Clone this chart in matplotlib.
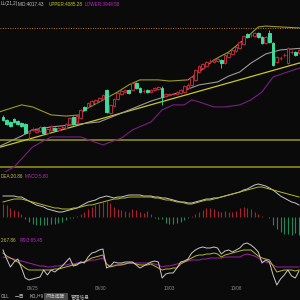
import matplotlib
matplotlib.use("Agg")
import matplotlib.pyplot as plt
import numpy as np

# ---------------- data ----------------
opens = [3783, 3773, 3766, 3776, 3769, 3762, 3759, 3728, 3739, 3732, 3735, 3749, 3728, 3739, 3745, 3739, 3748, 3745, 3759, 3783,
         3766, 3779, 3817, 3817, 3824, 3830, 3837, 3844, 3875, 3796, 3820, 3844, 3861, 3868, 3875, 3875, 3898, 3881, 3871, 3875,
         3868, 3875, 3878, 3881, 3854, 3859, 3860, 3861, 3864, 3868, 3881, 3892, 3909, 3936, 3949, 3956, 3972, 3970, 3973, 3977,
         3966, 3987, 3997, 4007, 4017, 4031, 4065, 4061, 4058, 4068, 4055, 4034, 4068, 4034, 3970, 3983, 3993, 3966, 4004, 4004, 4000]
closes = [3773, 3759, 3752, 3766, 3759, 3752, 3728, 3735, 3742, 3739, 3749, 3728, 3742, 3752, 3739, 3745, 3749, 3759, 3779, 3759,
          3786, 3807, 3807, 3830, 3837, 3841, 3847, 3858, 3800, 3824, 3844, 3864, 3871, 3875, 3864, 3898, 3881, 3868, 3872, 3868,
          3875, 3881, 3885, 3851, 3861, 3860, 3861, 3868, 3875, 3888, 3892, 3919, 3943, 3956, 3963, 3970, 3973, 3977, 3980, 3966,
          3994, 4000, 4011, 4021, 4038, 4058, 4055, 4062, 4068, 4055, 4034, 4055, 4038, 3960, 3987, 3984, 3994, 4017, 4005, 3994, 4011]
highs = [3790, 3776, 3769, 3780, 3773, 3766, 3762, 3739, 3749, 3742, 3752, 3752, 3745, 3756, 3749, 3749, 3756, 3762, 3783, 3786,
         3790, 3810, 3820, 3834, 3841, 3844, 3851, 3861, 3878, 3827, 3847, 3868, 3875, 3878, 3878, 3902, 3902, 3885, 3878, 3878,
         3878, 3885, 3888, 3888, 3864, 3866, 3866, 3871, 3878, 3892, 3898, 3922, 3946, 3960, 3966, 3973, 3980, 3980, 3983, 3980,
         3997, 4004, 4014, 4024, 4041, 4061, 4068, 4068, 4072, 4072, 4058, 4058, 4079, 4038, 3990, 3990, 4000, 4021, 4011, 4007, 4014]
lows = [3769, 3755, 3749, 3762, 3756, 3748, 3725, 3708, 3735, 3728, 3732, 3725, 3725, 3735, 3735, 3735, 3742, 3742, 3756, 3755,
        3762, 3776, 3803, 3813, 3820, 3827, 3834, 3841, 3796, 3793, 3817, 3841, 3858, 3864, 3861, 3871, 3878, 3864, 3864, 3864,
        3864, 3871, 3875, 3823, 3851, 3854, 3856, 3858, 3861, 3864, 3878, 3888, 3905, 3932, 3946, 3953, 3966, 3966, 3970, 3949,
        3963, 3983, 3993, 4004, 4014, 4028, 4051, 4055, 4055, 4051, 4031, 4031, 4034, 3956, 3966, 3977, 3987, 3963, 3997, 3990, 3997]

upper_idx = [-1, 5, 8, 13, 17, 21, 22, 26, 31, 34, 37, 42, 45, 50, 53, 57, 61, 66, 69, 71, 75, 81]
upper = [3800, 3824, 3817, 3790, 3786, 3790, 3807, 3834, 3868, 3892, 3909, 3909, 3905, 3909, 3936, 3977, 4004, 4055, 4089, 4092, 4089, 4085]
mid_idx = [-1, 5, 8, 13, 26, 32, 40, 47, 53, 58, 61, 64, 67, 71, 75, 81]
mid = [3683, 3718, 3739, 3749, 3766, 3796, 3837, 3864, 3892, 3902, 3922, 3936, 3966, 3997, 4011, 4017]
lower_idx = [-1, 3, 8, 13, 21, 24, 27, 32, 35, 40, 43, 46, 49, 51, 53, 57, 60, 64, 67, 70, 73, 76, 81]
lower = [3585, 3613, 3681, 3715, 3715, 3701, 3688, 3711, 3739, 3766, 3807, 3824, 3824, 3841, 3834, 3817, 3817, 3824, 3841, 3868, 3919, 3932, 3953]

trend_pts = [(0, 3683), (80, 3966)]
h_levels = [3705, 3613]
dotted_level = 4085

dif = [21, 21, 21, 21, 20, 20, 18, 16, 14, 12, 11, 10, 8, 7, 6, 5, 5, 6, 7, 8, 9, 11, 13, 15, 16, 17, 19, 20, 21, 20,
       19, 20, 20, 21, 22, 22, 22, 22, 21, 21, 21, 20, 20, 19, 19, 18, 17, 16, 15, 15, 14, 14, 15, 16, 17, 18, 18, 19, 19, 20,
       21, 22, 23, 24, 25, 27, 28, 30, 32, 33, 32, 31, 29, 27, 24, 21, 19, 17, 15, 14, 12]
dea = [15, 16, 17, 18, 18, 18, 17, 16, 15, 14, 13, 12, 11, 10, 9, 9, 8, 8, 8, 9, 9, 10, 11, 12, 12, 13, 14, 15, 16, 17,
       18, 18, 19, 19, 20, 20, 20, 20, 20, 20, 20, 19, 19, 18, 17, 17, 16, 15, 15, 14, 13, 13, 14, 15, 16, 17, 17, 18, 19, 20,
       21, 22, 23, 24, 25, 26, 27, 28, 29, 30, 30, 29, 28, 27, 26, 25, 24, 23, 22, 21, 20]
macd = [13, 12, 9, 7, 6, 3, -2, -5, -7, -8, -8, -8, -8, -7, -7, -6, -5, -3, -1, -1, 1, 3, 5, 8, 10, 12, 13, 15, 16, 14,
        10, 8, 7, 6, 5, 8, 7, 5, 4, 6, 3, -1, -2, -2, -6, -7, -7, -6, -5, -3, -1, 1, 3, 5, 7, 9, 9, 8, 6, 5,
        6, 5, 5, 6, 9, 10, 9, 8, 5, 3, 1, 0.5, -1, -8, -12, -15, -17, -17, -18, -16, -18]

rsi1 = [80, 71, 63, 68, 71, 62, 52, 50, 51, 52, 53, 60, 55, 60, 58, 61, 64, 68, 72, 64, 65, 68, 67, 73, 77, 78, 80, 81, 62, 64,
        68, 67, 67, 68, 68, 68, 65, 62, 64, 66, 68, 69, 68, 52, 56, 57, 57, 62, 68, 69, 71, 77, 80, 82, 83, 82, 82, 83, 82, 76,
        79, 80, 78, 80, 82, 86, 87, 85, 82, 78, 67, 70, 68, 55, 45, 51, 55, 60, 54, 52, 59]
rsi2 = [77, 74, 72, 70, 68, 65, 62, 60, 60, 60, 60, 60, 60, 60, 61, 61, 62, 63, 64, 65, 66, 67, 68, 70, 72, 73, 74, 75, 66, 63,
        64, 65, 65, 66, 67, 67, 66, 65, 65, 65, 66, 64, 62, 60, 61, 61, 62, 62, 66, 68, 70, 72, 74, 75, 75, 76, 76, 77, 76, 73,
        75, 76, 77, 78, 79, 80, 80, 80, 77, 74, 72, 71, 70, 64, 58, 59, 60, 60, 60, 59, 60]
rsi3 = [73, 72, 72, 71, 70, 69, 68, 67, 66, 65, 64, 64, 63, 63, 64, 64, 65, 65, 66, 66, 67, 68, 68, 69, 70, 70, 71, 72, 66, 64,
        65, 65, 66, 66, 67, 67, 67, 67, 67, 67, 67, 66, 65, 63, 64, 64, 65, 66, 67, 68, 69, 70, 70, 70, 71, 71, 72, 72, 72, 72,
        73, 73, 73, 73, 73, 75, 76, 75, 74, 72, 69, 68, 67, 65, 63, 63, 63, 63, 63, 63, 63]

date_pos = [8, 26.5, 45, 63]
date_labels = ["09/25", "09/30", "10/03", "10/08"]
tabs = ["OLL", "一目", "KDJ+9", "风险提醒", "管理信息"]
boll_label = "LL(21,2)"
mid_label = "MID:4017.43"
upper_label = "UPPER:4085.28"
lower_label = "LOWER:3948.58"
dea_label = "DEA:20.86"
macd_label = "MACD:5.80"
rsi2_label = "2:67.86"
rsi3_label = "RSI3:65.45"

# ---------------- style ----------------
BG = "#0a0a0a"
RED = "#bb2a3e"
GREEN = "#3ddc9c"
plt.rcParams['font.family'] = ['Liberation Sans', 'Noto Sans CJK SC', 'DejaVu Sans']

W = H = 300
fig = plt.figure(figsize=(3, 3), dpi=100, facecolor=BG)

def axes_px(top, bottom):
    return fig.add_axes([0, 1 - bottom / H, 1, (bottom - top) / H], facecolor=BG)

def ftext(x, y, s, color, size=3.3, **kw):
    fig.text(x / W, 1 - y / H, s, color=color, fontsize=size, va='center', ha=kw.pop('ha', 'left'), **kw)

XL = (-0.81, 80.27)
n = len(opens)
idx = np.arange(n)

# main
ax = axes_px(12, 172)
ax.set_xlim(*XL)
ax.set_ylim(3595.8, 4139.8)
ax.axhline(dotted_level, color="#c07a20", lw=0.7, ls=(0, (1, 1.5)), zorder=1)
for lv in h_levels:
    ax.axhline(lv, color="#8c8c14", lw=1.2, zorder=1)
ax.axline(trend_pts[0], trend_pts[1], color="#c8c828", lw=0.9, zorder=1)
ax.plot(upper_idx, upper, color="#9a9a22", lw=0.8, zorder=1)
ax.plot(mid_idx, mid, color="#9a9a9a", lw=0.8, zorder=1)
ax.plot(lower_idx, lower, color="#7a1e82", lw=0.8, zorder=1)
for i in range(n):
    o, c, h, l = opens[i], closes[i], highs[i], lows[i]
    up = c >= o
    col = RED if up else GREEN
    ax.vlines(i, l, h, color=col, lw=0.6, zorder=2)
    lo, hi = min(o, c), max(o, c)
    ax.bar(i, max(hi - lo, 1.5), bottom=lo, width=0.72,
           facecolor=BG if up else GREEN, edgecolor=col, lw=0.7, zorder=3)

# MACD
am = axes_px(180, 238)
am.set_xlim(*XL)
am.set_ylim(-21, 37)
for i, v in enumerate(macd):
    am.vlines(i, 0, v, color="#a82234" if v > 0 else "#1e8a5c", lw=0.8)
am.plot(idx, dif, color="#c8c8c8", lw=0.7)
am.plot(idx, dea, color="#b8b828", lw=0.7)

# RSI
ar = axes_px(242, 286)
ar.set_xlim(*XL)
ar.set_ylim(44, 88)
ar.plot(idx, rsi3, color="#a020a8", lw=0.7)
ar.plot(idx, rsi2, color="#b8b828", lw=0.7)
ar.plot(idx, rsi1, color="#c8c8c8", lw=0.7)

for a in (ax, am, ar):
    a.set_xticks([])
    a.set_yticks([])
    for s in a.spines.values():
        s.set_visible(False)

# dates
for p, lab in zip(date_pos, date_labels):
    fig.text((3 + 3.7 * p) / W, 1 - 289 / H, lab, color="#8a8a8a", fontsize=3.3, ha='center', va='center')

# header texts
ftext(0.5, 4, boll_label, "#c8c8c8")
ftext(18, 4, mid_label, "#c8c8c8")
ftext(49, 4, upper_label, "#c8c828")
ftext(85, 4, lower_label, "#c028c8")
ftext(0.5, 177, dea_label, "#c8c040")
ftext(25, 177, macd_label, "#c028c8")
ftext(0.5, 240, rsi2_label, "#c8c040")
ftext(20, 240, rsi3_label, "#c028c8")

# tab bar
fig.patches.append(plt.Rectangle((44 / W, 0), 24 / W, 7.5 / H, transform=fig.transFigure,
                                 facecolor="#4a4a4a", edgecolor='none'))
tab_x = [0.5, 15, 30, 46, 71]
for tx, t in zip(tab_x, tabs):
    ftext(tx, 296.5, t, "#c0c0c0", size=3.4, family=['Noto Sans CJK SC', 'DejaVu Sans'])

fig.savefig("out.png", dpi=100, facecolor=BG)
